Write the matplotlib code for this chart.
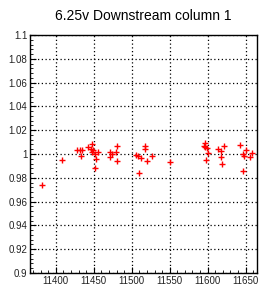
import numpy as np
import matplotlib
matplotlib.use("Agg")
import matplotlib.pyplot as plt
from matplotlib.ticker import MultipleLocator, FormatStrFormatter

# run number vs normalised response
run = [11382, 11408, 11428, 11432, 11434, 11433, 11443, 11446, 11448, 11447,
       11451, 11453, 11452, 11455, 11471, 11472, 11479, 11480, 11481, 11506,
       11508, 11510, 11512, 11517, 11518, 11520, 11527, 11551, 11596, 11595,
       11597, 11599, 11598, 11601, 11614, 11617, 11618, 11619, 11621, 11642,
       11646, 11648, 11650, 11647, 11656, 11658, 11474, 11449]
resp = [0.974, 0.995, 1.003, 1.003, 1.003, 0.998, 1.006, 1.004, 1.008, 1.0015,
        1.000, 0.996, 0.988, 1.002, 0.9977, 1.0015, 1.002, 1.007, 0.994, 0.9995,
        0.9985, 0.984, 0.997, 1.007, 1.0045, 0.9945, 0.998, 0.9937, 1.0095, 1.0065,
        1.006, 1.005, 0.995, 1.0007, 1.004, 1.0023, 0.9977, 0.992, 1.007, 1.0073,
        0.9996, 0.998, 1.003, 0.9857, 0.9973, 1.001, 1.000, 1.003]

title = "6.25v Downstream column 1"

plt.rcParams['font.family'] = ['Liberation Sans', 'DejaVu Sans']

fig = plt.figure(figsize=(2.62, 2.86), dpi=100)
ax = fig.add_axes([0.1145, 0.0455, 0.8665, 0.832])

ax.plot(run, resp, '+', color='red', markersize=5, markeredgewidth=1)

ax.set_xlim(11366, 11665)
ax.set_ylim(0.9, 1.1)
ax.xaxis.set_major_locator(MultipleLocator(50))
ax.xaxis.set_minor_locator(MultipleLocator(10))
ax.yaxis.set_major_locator(MultipleLocator(0.02))
ax.yaxis.set_minor_locator(MultipleLocator(0.004))
ax.yaxis.set_major_formatter(FormatStrFormatter('%g'))
ax.grid(True, which='major', color='black', linestyle=(0, (1, 2)), linewidth=0.9)
ax.tick_params(which='both', direction='in', top=False, right=False,
               labelsize=7, colors='black', labelcolor='#222222', pad=2)
ax.tick_params(which='major', length=4, width=0.8)
ax.tick_params(which='minor', length=2, width=0.6)
for s in ax.spines.values():
    s.set_linewidth(1)

fig.text(0.548, 0.945, title, ha='center', va='center', fontsize=10)

fig.savefig("out.png", dpi=100)
